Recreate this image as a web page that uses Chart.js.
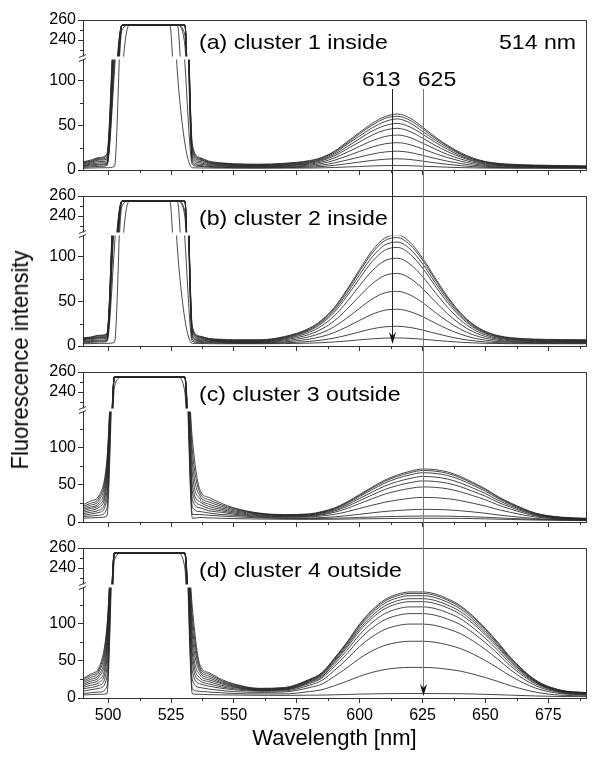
<!DOCTYPE html>
<html><head><meta charset="utf-8">
<script src="https://cdn.jsdelivr.net/npm/chart.js@4.4.1/dist/chart.umd.min.js"></script>
<style>
html,body{margin:0;padding:0;background:#fff;}
#wrap{position:relative;width:600px;height:764px;overflow:hidden;background:#fff;}
#wrap canvas{position:absolute;left:0;}
#ytitle{position:absolute;left:20px;top:360px;font-family:"Liberation Sans",Arial,sans-serif;font-size:22px;line-height:1;white-space:nowrap;color:#000;transform:translate(-50%,-50%) rotate(-90deg) scaleY(1.08);}
</style></head><body>
<div id="wrap">
<canvas id="cA" width="600" height="183" style="top:0px"></canvas>
<canvas id="cB" width="600" height="176" style="top:183px"></canvas>
<canvas id="cC" width="600" height="176" style="top:359px"></canvas>
<canvas id="cD" width="600" height="229" style="top:535px"></canvas>
<div id="ytitle">Fluorescence intensity</div>
</div>
<script>
// ---------- data ----------
const wavelengths = [490, 493, 496.5, 499.5, 502.5, 505.5, 508.5, 524.5, 527.5, 530.5, 533.5, 536.5, 540, 545, 550, 560, 570, 580, 585, 590, 595, 600, 605, 610, 615, 620, 625, 630, 635, 640, 645, 650, 655, 660, 670, 680, 690];

const clusterA = [
 [9, 11, 14, 18, 180, 255, 255, 255, 255, 255, 28, 14, 10, 8, 7, 6.5, 7.5, 10.5, 14, 21, 31.5, 42, 52, 59.5, 62.5, 58, 48, 37, 27.5, 19.5, 13.5, 9.5, 7.5, 6.5, 5.5, 5, 4.5],
 [8.5, 10, 13, 16, 170, 255, 255, 255, 255, 255, 25, 13, 9, 7.5, 6.5, 6, 7, 9.8, 13.5, 20.5, 30, 40.5, 50, 57.5, 60, 55.5, 46, 35.5, 26.5, 18.5, 12.5, 9, 7, 6, 5, 4.5, 4.3],
 [8, 9.5, 12, 14, 165, 255, 255, 255, 255, 255, 22, 12, 8.5, 7, 6, 5.5, 6.5, 9, 12.5, 19, 28.5, 38, 47, 54, 57, 52.5, 43, 33.5, 25, 17.5, 12, 8.5, 6.5, 5.5, 4.8, 4.3, 4],
 [7, 8.5, 11, 12, 160, 255, 255, 255, 255, 255, 19, 11, 8, 6.5, 5.5, 5, 6, 8.3, 11.5, 17.5, 26, 35, 43.5, 49.5, 52, 48, 40, 31, 23, 16, 11, 7.8, 6.2, 5.3, 4.5, 4, 3.8],
 [6, 7.5, 9.5, 10, 150, 255, 255, 255, 255, 255, 16, 9.5, 7, 5.8, 5, 4.5, 5.3, 7.4, 10.4, 15.8, 23.4, 31.4, 39, 44.4, 46.5, 43, 35.6, 27.6, 20.5, 14.6, 10, 7, 5.7, 4.9, 4.2, 3.8, 3.5],
 [5, 6.5, 8, 8, 140, 255, 255, 255, 255, 255, 13, 8, 6, 5, 4.4, 4, 4.7, 6.5, 8.9, 13.5, 19.8, 26.4, 32.7, 37.3, 39, 36.2, 30, 23.3, 17.3, 12.4, 8.6, 6.1, 5, 4.4, 3.8, 3.4, 3.2],
 [4.5, 5.5, 6.5, 7, 130, 255, 255, 255, 255, 245, 10, 6.5, 5, 4.3, 3.8, 3.5, 4, 5.4, 7.3, 10.8, 15.7, 20.8, 25.6, 29.2, 30.5, 28.3, 23.5, 18.4, 13.8, 10, 7, 5.1, 4.3, 3.8, 3.4, 3.1, 3],
 [4, 4.5, 5.5, 6, 120, 255, 255, 255, 255, 235, 8, 5, 4, 3.6, 3.2, 3, 3.4, 4.3, 5.5, 7.9, 11.1, 14.5, 17.8, 20.1, 21, 19.6, 16.3, 12.9, 9.8, 7.3, 5.3, 4.1, 3.5, 3.2, 2.9, 2.7, 2.6],
 [3, 3.5, 4, 5, 110, 250, 255, 255, 255, 120, 6, 4, 3.2, 2.9, 2.7, 2.5, 2.7, 3.2, 3.9, 5.2, 7, 8.9, 10.7, 12, 12.5, 11.7, 9.9, 8, 6.3, 4.9, 3.8, 3.1, 2.8, 2.6, 2.4, 2.3, 2.2],
 [2, 2.2, 2.5, 2.5, 4, 200, 255, 255, 110, 30, 2.5, 2.3, 2.2, 2.1, 2, 2, 2.1, 2.2, 2.4, 2.8, 3.4, 3.9, 4.5, 4.9, 5, 4.8, 4.2, 3.7, 3.1, 2.7, 2.4, 2.2, 2.1, 2, 2, 1.9, 1.9]
];

const clusterB = [
 [9, 10, 12, 14, 190, 255, 255, 255, 255, 255, 21, 11, 8.5, 7.5, 7, 7, 10.5, 19.9, 29.2, 43.3, 63.2, 85.4, 106.5, 120.5, 124, 115.8, 98.3, 76, 55, 37.4, 24.6, 16.4, 11.7, 9.3, 7.7, 7.2, 7],
 [8.5, 9.5, 11.5, 13, 185, 255, 255, 255, 255, 255, 19, 10.5, 8, 7, 6.5, 6.5, 9.9, 19.1, 28.3, 42, 61.5, 83.2, 103.8, 117.6, 121, 113, 95.8, 74, 53.4, 36.3, 23.7, 15.7, 11.1, 8.8, 7.2, 6.7, 6.5],
 [8, 9, 10.5, 12, 180, 255, 255, 255, 255, 255, 17, 10, 7.5, 6.5, 6, 6, 9.3, 18.1, 26.9, 40.1, 58.8, 79.7, 99.5, 112.7, 116, 108.3, 91.8, 70.9, 51.1, 34.6, 22.5, 14.8, 10.4, 8.2, 6.7, 6.2, 6],
 [7.5, 8.5, 9.5, 11, 175, 255, 255, 255, 255, 255, 15, 9, 7, 6, 5.5, 5.5, 8.6, 17, 25.4, 37.9, 55.7, 75.5, 94.3, 106.9, 110, 102.7, 87, 67.2, 48.3, 32.7, 21.2, 13.9, 9.7, 7.6, 6.1, 5.7, 5.5],
 [7, 8, 9, 10, 170, 255, 255, 255, 255, 255, 13, 8, 6.5, 5.5, 5, 5, 7.8, 15.2, 22.7, 33.8, 49.6, 67.3, 84, 95.2, 98, 91.5, 77.5, 59.9, 43.1, 29.2, 19, 12.4, 8.7, 6.9, 5.6, 5.2, 5],
 [6, 7, 8, 8.5, 160, 255, 255, 255, 255, 255, 11, 7, 5.5, 5, 4.5, 4.5, 6.8, 12.9, 19, 28.2, 41.2, 55.8, 69.5, 78.7, 81, 75.6, 64.2, 49.6, 35.9, 24.4, 16, 10.6, 7.6, 6, 5, 4.7, 4.5],
 [5, 6, 6.5, 7, 150, 255, 255, 255, 255, 245, 9, 6, 5, 4.5, 4, 4, 5.7, 10.3, 14.8, 21.7, 31.4, 42.2, 52.5, 59.3, 61, 57, 48.5, 37.6, 27.4, 18.8, 12.6, 8.6, 6.3, 5.1, 4.3, 4.1, 4],
 [4.5, 5, 5.5, 6, 140, 255, 255, 255, 255, 240, 7, 5, 4.3, 4, 3.6, 3.5, 4.6, 7.6, 10.6, 15.1, 21.5, 28.6, 35.4, 39.9, 41, 38.4, 32.8, 25.6, 18.9, 13.3, 9.1, 6.5, 5, 4.3, 3.7, 3.6, 3.5],
 [3.5, 4, 4.5, 5, 110, 250, 255, 255, 255, 120, 5, 4, 3.5, 3.2, 3, 3, 3.6, 5.1, 6.6, 8.9, 12.1, 15.7, 19.2, 21.4, 22, 20.7, 17.8, 14.2, 10.8, 7.9, 5.9, 4.5, 3.8, 3.4, 3.1, 3, 3],
 [2.5, 2.7, 3, 3, 4, 200, 255, 255, 110, 30, 3, 2.8, 2.6, 2.5, 2.5, 2.5, 2.7, 3.2, 3.7, 4.5, 5.6, 6.9, 8, 8.8, 9, 8.5, 7.6, 6.3, 5.2, 4.2, 3.5, 3, 2.8, 2.6, 2.5, 2.5, 2.5]
];

const clusterC = [
 [23, 28, 36, 83, 255, 255, 255, 255, 255, 255, 110, 43, 33, 25, 19, 12, 10, 10.9, 14, 18.9, 27, 36.9, 46.8, 56.1, 62.9, 67.9, 71, 70.1, 67, 61.1, 53, 44.5, 34.1, 25.6, 11.9, 6.5, 5],
 [21, 25, 33, 78, 255, 255, 255, 255, 255, 255, 95, 39, 30, 23, 18, 11.5, 9.5, 10.3, 13.3, 18.2, 26, 35.7, 45.4, 54.5, 61.1, 66, 69, 68.1, 65.1, 59.3, 51.5, 43.2, 33.1, 24.8, 11.4, 6.2, 4.7],
 [19, 22.5, 30, 72, 255, 255, 255, 255, 255, 255, 80, 35, 27, 21, 16.5, 11, 9, 9.7, 12.6, 17.3, 24.8, 34.1, 43.4, 52.1, 58.5, 63.1, 66, 65.1, 62.2, 56.7, 49.2, 41.2, 31.6, 23.6, 10.8, 5.8, 4.4],
 [17, 20, 26, 66, 255, 255, 255, 255, 255, 255, 65, 31, 24, 19, 15, 10.5, 8.5, 9.1, 11.8, 16.1, 23, 31.6, 40.1, 48.2, 54, 58.3, 61, 60.2, 57.5, 52.4, 45.5, 38.2, 29.2, 21.9, 10.1, 5.5, 4.1],
 [15, 18, 23, 58, 255, 255, 255, 255, 255, 255, 50, 27, 21, 17, 13.5, 9.5, 8, 8.4, 10.8, 14.7, 20.9, 28.6, 36.3, 43.5, 48.8, 52.6, 55, 54.3, 51.9, 47.3, 41.1, 34.5, 26.5, 19.9, 9.2, 5.1, 3.9],
 [13, 15.5, 20, 50, 255, 255, 255, 255, 255, 255, 40, 23, 18, 15, 12, 8.5, 7.2, 7.7, 9.7, 13, 18.2, 24.7, 31.2, 37.3, 41.7, 45, 47, 46.4, 44.4, 40.5, 35.3, 29.7, 22.9, 17.3, 8.2, 4.6, 3.6],
 [11, 13, 16, 40, 255, 255, 255, 255, 255, 255, 30, 19, 15, 13, 10.5, 7.5, 6.5, 6.8, 8.2, 10.3, 13.8, 18.2, 22.5, 26.5, 29.5, 31.7, 33, 32.6, 31.2, 28.7, 25.2, 21.4, 16.7, 12.9, 6.6, 4.1, 3.3],
 [9, 10.5, 13, 30, 255, 255, 255, 255, 255, 255, 20, 14, 12, 10, 9, 6.5, 5.5, 5.4, 6, 6.9, 8.5, 10.4, 12.3, 14.1, 15.4, 16.4, 17, 16.8, 16.2, 15.1, 13.5, 11.7, 9.5, 7.7, 4.6, 3.3, 2.8],
 [7, 8, 9, 18, 255, 255, 255, 255, 255, 255, 10, 10, 9, 8, 7, 5.5, 4.8, 4.6, 4.8, 5.1, 5.5, 6.1, 6.6, 7.2, 7.5, 7.8, 8, 8, 7.8, 7.4, 7, 6.3, 5.5, 4.8, 3.5, 2.8, 2.5],
 [5, 5.5, 6, 8, 245, 255, 255, 255, 255, 240, 5, 6, 5.5, 5, 4.5, 4, 3.6, 3.5, 3.6, 3.7, 3.9, 4.2, 4.4, 4.6, 4.8, 4.9, 5, 5, 4.9, 4.8, 4.6, 4.2, 3.8, 3.4, 2.6, 2.2, 1.9]
];

const clusterD = [
 [26, 32, 42, 95, 255, 255, 255, 255, 255, 255, 120, 44, 34, 25, 19, 13, 14, 25, 34.1, 53.6, 75, 99.1, 118, 131.6, 139, 142, 142, 139.4, 132.9, 123.8, 110, 93.3, 74.5, 54.4, 24, 10.5, 7.3],
 [24, 30, 39, 90, 255, 255, 255, 255, 255, 255, 108, 41, 32, 23.5, 18, 12.5, 13.4, 24.4, 33.3, 52.6, 73.8, 97.6, 116.2, 129.7, 137, 140, 140, 137.4, 131, 122, 108.4, 92, 73.3, 53.5, 23.5, 10.2, 7],
 [22, 27.5, 36, 84, 255, 255, 255, 255, 255, 255, 96, 38, 29.5, 22, 17, 12, 12.9, 23.6, 32.4, 51.3, 72.1, 95.4, 113.7, 126.9, 134.1, 137, 137, 134.5, 128.2, 119.4, 106, 89.8, 71.6, 52.2, 22.8, 9.8, 6.8],
 [20, 25, 32, 77, 255, 255, 255, 255, 255, 255, 84, 35, 27, 20.5, 16, 11.5, 12.3, 22.8, 31.3, 49.7, 69.9, 92.6, 110.3, 123.2, 130.2, 133, 133, 130.6, 124.4, 115.9, 102.9, 87.2, 69.5, 50.6, 22, 9.5, 6.5],
 [18, 22.5, 29, 70, 255, 255, 255, 255, 255, 255, 72, 31, 24.5, 19, 15, 11, 11.8, 21.9, 30.2, 48.1, 67.7, 89.7, 107, 119.5, 126.3, 129, 129, 126.6, 120.7, 112.3, 99.7, 84.5, 67.3, 49, 21.3, 9.1, 6.2],
 [16, 20, 25, 62, 255, 255, 255, 255, 255, 255, 60, 27, 22, 17, 14, 10.5, 11.2, 20.8, 28.6, 45.5, 64.1, 84.9, 101.2, 113, 119.4, 122, 122, 119.8, 114.1, 106.3, 94.3, 79.9, 63.7, 46.3, 20.2, 8.6, 5.9],
 [14, 17, 21, 52, 255, 255, 255, 255, 255, 255, 48, 23, 19, 15, 12.5, 10, 10.6, 19.4, 26.7, 42.3, 59.4, 78.7, 93.8, 104.7, 110.6, 113, 113, 110.9, 105.7, 98.4, 87.4, 74.1, 59.1, 43, 18.8, 8.1, 5.5],
 [12, 14, 17, 40, 255, 255, 255, 255, 255, 255, 36, 19, 16, 13, 11, 9, 9.4, 17.1, 23.5, 37.1, 52.1, 69, 82.2, 91.7, 96.9, 99, 99, 97.2, 92.6, 86.3, 76.6, 64.9, 51.8, 37.7, 16.5, 7.1, 4.9],
 [9, 11, 13, 28, 255, 255, 255, 255, 255, 255, 24, 14, 12, 10, 8.5, 7.5, 8, 13.9, 18.7, 29.1, 40.5, 53.2, 63.2, 70.5, 74.4, 76, 76, 74.6, 71.2, 66.3, 59, 50.1, 40.1, 29.4, 13.2, 5.9, 4.2],
 [6, 7, 8, 15, 255, 255, 255, 255, 255, 255, 12, 9, 8, 7, 6, 5.5, 5.5, 8.6, 11.1, 16.5, 22.5, 29.1, 34.3, 38.1, 40.2, 41, 41, 40.3, 38.5, 36, 32.1, 27.4, 22.1, 16.5, 7.8, 3.8, 2.9],
 [4, 4.5, 5, 5.5, 248, 255, 255, 255, 255, 240, 5.5, 5, 4.5, 4.2, 4, 3.6, 3.5, 3.8, 3.9, 4.3, 4.7, 5.2, 5.5, 5.8, 5.9, 6, 6, 5.9, 5.8, 5.7, 5.4, 4.9, 4.4, 3.8, 2.7, 2, 1.8]
];

const panelLabels = ['(a) cluster 1 inside', '(b) cluster 2 inside', '(c) cluster 3 outside', '(d) cluster 4 outside'];
const excitationLabel = '514 nm';
const markerWavelengths = [613, 625];
const xMajorTicks = [500, 525, 550, 575, 600, 625, 650, 675];
const xMinorTicks = [512.5, 537.5, 562.5, 587.5, 612.5, 637.5, 662.5, 687.5];
const yUpperTicks = [240, 260];
const yUpperMinor = [230, 250];
const yLowerTicks = [0, 50, 100];
const yLowerMinorAB = [25, 75];
const yLowerMinorCD = [25, 75, 125];
const xTitle = 'Wavelength [nm]';

// ---------- drawing ----------
const FONT = '"Liberation Sans", Arial, sans-serif';
Chart.defaults.font.family = FONT;
const AXIS = '#333';
const LINE = '#262626';

function stretchedText(ctx, text, x, y, align, size) {
  ctx.save();
  ctx.font = size + 'px ' + FONT;
  ctx.fillStyle = '#000';
  ctx.textBaseline = 'alphabetic';
  ctx.textAlign = align;
  ctx.translate(x, y);
  ctx.scale(1.1, 1);
  ctx.fillText(text, 0, 0);
  ctx.restore();
}

const panelPlugin = {
  id: 'panel',
  beforeDatasetDraw(chart, args) {
    const ys = chart.scales[args.meta.yAxisID];
    const ca = chart.chartArea, ctx = chart.ctx;
    ctx.save();
    ctx.beginPath();
    ctx.rect(ca.left, ys.top, ca.right - ca.left, ys.bottom - ys.top);
    ctx.clip();
  },
  afterDatasetDraw(chart) { chart.ctx.restore(); },
  afterDatasetsDraw(chart, args, o) {
    const ctx = chart.ctx, ca = chart.chartArea;
    const xs = chart.scales.x, yU = chart.scales.yU, yL = chart.scales.yL;
    const L = ca.left, R = ca.right, T = ca.top, B = ca.bottom;
    const brk = yU.bottom;
    ctx.save();
    // axis break gap
    ctx.fillStyle = '#fff';
    ctx.fillRect(L - 2, brk - 1.5, R - L + 1, 3);
    ctx.strokeStyle = AXIS; ctx.lineWidth = 1;
    ctx.beginPath();
    [-2, 2].forEach(d => { ctx.moveTo(L - 4, brk + d + 1.5); ctx.lineTo(L + 3, brk + d - 1.5); });
    ctx.stroke();
    // frame (top & right)
    const tY = Math.round(T) + 0.5, rX = Math.round(R) + 0.5;
    ctx.beginPath();
    ctx.moveTo(L, tY); ctx.lineTo(rX, tY); ctx.lineTo(rX, B + 0.5);
    ctx.stroke();
    // minor ticks
    ctx.beginPath();
    xMinorTicks.forEach(v => { const p = Math.round(xs.getPixelForValue(v)) + 0.5; ctx.moveTo(p, B); ctx.lineTo(p, B + 3); });
    yUpperMinor.forEach(v => { const p = Math.round(yU.getPixelForValue(v)) + 0.5; ctx.moveTo(L - 3, p); ctx.lineTo(L, p); });
    o.minorLower.forEach(v => { const p = Math.round(yL.getPixelForValue(v)) + 0.5; ctx.moveTo(L - 3, p); ctx.lineTo(L, p); });
    ctx.stroke();
    ctx.restore();
    // texts
    stretchedText(ctx, o.label, L + 116, T + 28.5, 'left', 21);
    if (o.showExcitation) {
      stretchedText(ctx, excitationLabel, R - 10, T + 28.5, 'right', 21);
      stretchedText(ctx, String(markerWavelengths[0]), xs.getPixelForValue(markerWavelengths[0]) - 11, 86, 'center', 21);
      stretchedText(ctx, String(markerWavelengths[1]), xs.getPixelForValue(markerWavelengths[1]) + 14.5, 86, 'center', 21);
    }
  },
  afterDraw(chart, args, o) {
    const ctx = chart.ctx, ca = chart.chartArea, xs = chart.scales.x;
    const H = chart.height;
    o.arrows.forEach(a => {
      const x = Math.round(xs.getPixelForValue(markerWavelengths[a.m])) + 0.5;
      const y0 = a.from;
      const tip = ca.bottom - 2;
      const y1 = a.tip ? tip - 6 : H;
      ctx.save();
      ctx.strokeStyle = a.color; ctx.lineWidth = 1;
      ctx.beginPath(); ctx.moveTo(x, y0); ctx.lineTo(x, y1); ctx.stroke();
      if (a.tip) {
        ctx.fillStyle = '#111';
        ctx.beginPath();
        ctx.moveTo(x, tip);
        ctx.lineTo(x - 3.5, tip - 12);
        ctx.lineTo(x, tip - 8);
        ctx.lineTo(x + 3.5, tip - 12);
        ctx.closePath();
        ctx.fill();
      }
      ctx.restore();
    });
  }
};

function makePanel(id, series, cfg) {
  const datasets = [];
  series.forEach(s => {
    ['yU', 'yL'].forEach(ax => {
      datasets.push({
        data: wavelengths.map((w, i) => ({x: w, y: s[i]})),
        xAxisID: 'x', yAxisID: ax,
        borderColor: LINE, borderWidth: 0.85,
        pointRadius: 0, fill: false,
        cubicInterpolationMode: 'monotone'
      });
    });
  });
  const gridCfg = {display: true, drawOnChartArea: false, drawTicks: true, tickLength: 5, tickColor: AXIS, tickWidth: 1};
  const borderCfg = {display: true, color: AXIS, width: 1};
  const yTickFont = {family: FONT, size: 16};
  new Chart(document.getElementById(id), {
    type: 'line',
    data: {datasets},
    options: {
      responsive: false, animation: false, devicePixelRatio: 1, events: [],
      layout: {padding: {top: cfg.padTop, right: 14, bottom: cfg.padBottom, left: 0}},
      scales: {
        x: {
          type: 'linear', position: 'bottom', min: 490, max: 690,
          afterBuildTicks: s => { s.ticks = xMajorTicks.map(v => ({value: v})); },
          afterFit: s => { s.height = cfg.xHeight; },
          grid: gridCfg, border: borderCfg,
          ticks: {display: cfg.showX, font: {family: FONT, size: 16}, color: '#000', padding: 3, maxRotation: 0, autoSkip: false},
          title: {display: cfg.showX, text: xTitle, font: {family: FONT, size: 22}, color: '#000', padding: 0}
        },
        yL: {
          type: 'linear', position: 'left', stack: 'panel', stackWeight: 112, min: 0, max: cfg.lowerMax, offset: false,
          afterBuildTicks: s => { s.ticks = yLowerTicks.map(v => ({value: v})); },
          afterFit: s => { s.width = 83; },
          grid: gridCfg, border: borderCfg,
          ticks: {font: yTickFont, color: '#000', padding: 2, autoSkip: false}
        },
        yU: {
          type: 'linear', position: 'left', stack: 'panel', stackWeight: 38, min: 222, max: 260, offset: false,
          afterBuildTicks: s => { s.ticks = yUpperTicks.map(v => ({value: v})); },
          afterFit: s => { s.width = 83; },
          grid: gridCfg, border: borderCfg,
          ticks: {font: yTickFont, color: '#000', padding: 2, autoSkip: false}
        }
      },
      plugins: {
        legend: {display: false}, tooltip: {enabled: false},
        panel: {label: cfg.label, showExcitation: cfg.showExcitation, minorLower: cfg.minorLower, arrows: cfg.arrows}
      }
    },
    plugins: [panelPlugin]
  });
}

makePanel('cA', clusterA, {padTop: 20, padBottom: 0, xHeight: 13, showX: false, lowerMax: 125, label: panelLabels[0], showExcitation: true, minorLower: yLowerMinorAB,
  arrows: [{m: 0, color: '#222', from: 89, tip: false}, {m: 1, color: '#777', from: 89, tip: false}]});
makePanel('cB', clusterB, {padTop: 13, padBottom: 0, xHeight: 13, showX: false, lowerMax: 125, label: panelLabels[1], showExcitation: false, minorLower: yLowerMinorAB,
  arrows: [{m: 0, color: '#222', from: 0, tip: true}, {m: 1, color: '#777', from: 0, tip: false}]});
makePanel('cC', clusterC, {padTop: 13, padBottom: 0, xHeight: 13, showX: false, lowerMax: 150, label: panelLabels[2], showExcitation: false, minorLower: yLowerMinorCD,
  arrows: [{m: 1, color: '#777', from: 0, tip: false}]});
makePanel('cD', clusterD, {padTop: 13, padBottom: 12, xHeight: 54, showX: true, lowerMax: 150, label: panelLabels[3], showExcitation: false, minorLower: yLowerMinorCD,
  arrows: [{m: 1, color: '#777', from: 0, tip: true}]});
</script>
</body></html>
